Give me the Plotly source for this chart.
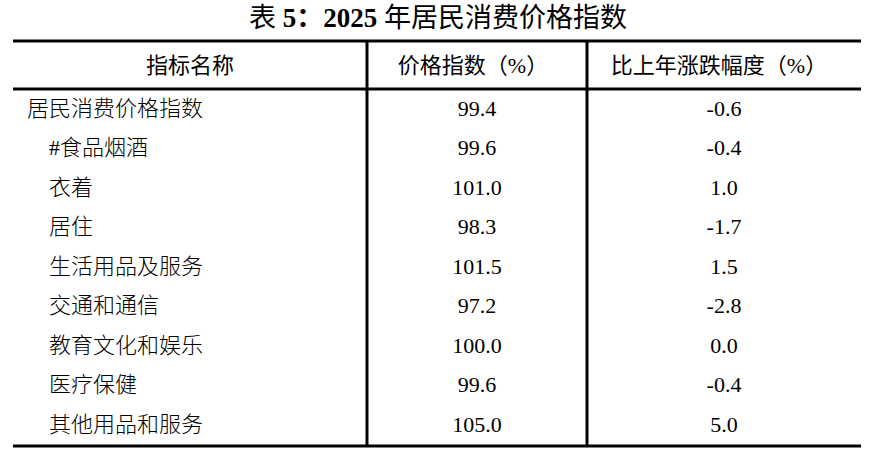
import plotly.graph_objects as go

title_text = "表 <b>5：2025</b> 年居民消费价格指数"
headers = ["指标名称", "价格指数（%）", "比上年涨跌幅度（%）"]
categories = ["居民消费价格指数", "#食品烟酒", "衣着", "居住", "生活用品及服务",
              "交通和通信", "教育文化和娱乐", "医疗保健", "其他用品和服务"]
index_values = ["99.4", "99.6", "101.0", "98.3", "101.5", "97.2", "100.0", "99.6", "105.0"]
change_values = ["-0.6", "-0.4", "1.0", "-1.7", "1.5", "-2.8", "0.0", "-0.4", "5.0"]
indent = [0, 1, 1, 1, 1, 1, 1, 1, 1]

W, H = 879, 456
FONT = "Liberation Serif, Noto Sans CJK SC, serif"
row0, rowh = 110, 39.5
rows_y = [row0 + i * rowh for i in range(len(categories))]
x_left = [27 + 22 * k for k in indent]
col2_c, col3_c = 477, 724
left, right = 13, 861
top, head_line, bottom = 41, 89, 446
v1, v2 = 367, 587

fig = go.Figure()
fig.add_trace(go.Scatter(x=[190, col2_c - 4, col3_c - 5], y=[67, 67, 67], mode="text",
                         text=headers, textposition="middle center",
                         textfont=dict(family=FONT, size=22, color="#000"),
                         hoverinfo="skip", showlegend=False))
fig.add_trace(go.Scatter(x=x_left, y=rows_y, mode="text", text=categories,
                         textposition="middle right",
                         textfont=dict(family=FONT, size=22, color="#000", weight=300),
                         hoverinfo="skip", showlegend=False))
fig.add_trace(go.Scatter(x=[col2_c] * len(index_values), y=rows_y, mode="text",
                         text=index_values, textposition="middle center",
                         textfont=dict(family=FONT, size=22, color="#000"),
                         hoverinfo="skip", showlegend=False))
fig.add_trace(go.Scatter(x=[col3_c] * len(change_values), y=rows_y, mode="text",
                         text=change_values, textposition="middle center",
                         textfont=dict(family=FONT, size=22, color="#000"),
                         hoverinfo="skip", showlegend=False))

line = dict(color="#000", width=3)
shapes = [
    dict(type="line", xref="x", yref="y", x0=left, x1=right, y0=top, y1=top, line=line),
    dict(type="line", xref="x", yref="y", x0=left, x1=right, y0=head_line, y1=head_line, line=line),
    dict(type="line", xref="x", yref="y", x0=left, x1=right, y0=bottom, y1=bottom, line=line),
    dict(type="line", xref="x", yref="y", x0=v1, x1=v1, y0=top, y1=bottom, line=line),
    dict(type="line", xref="x", yref="y", x0=v2, x1=v2, y0=top, y1=bottom, line=line),
]

fig.update_layout(
    width=W, height=H, margin=dict(l=0, r=0, t=0, b=0),
    paper_bgcolor="white", plot_bgcolor="white",
    xaxis=dict(range=[0, W], visible=False, fixedrange=True),
    yaxis=dict(range=[H, 0], visible=False, fixedrange=True),
    shapes=shapes,
    annotations=[dict(x=438, y=18, xref="x", yref="y", text=title_text, showarrow=False,
                      font=dict(family=FONT, size=27, color="#000"))],
)
fig.write_html("out.html", config={"displayModeBar": False},
               post_script="document.body.style.margin='0';document.body.style.padding='0';")
